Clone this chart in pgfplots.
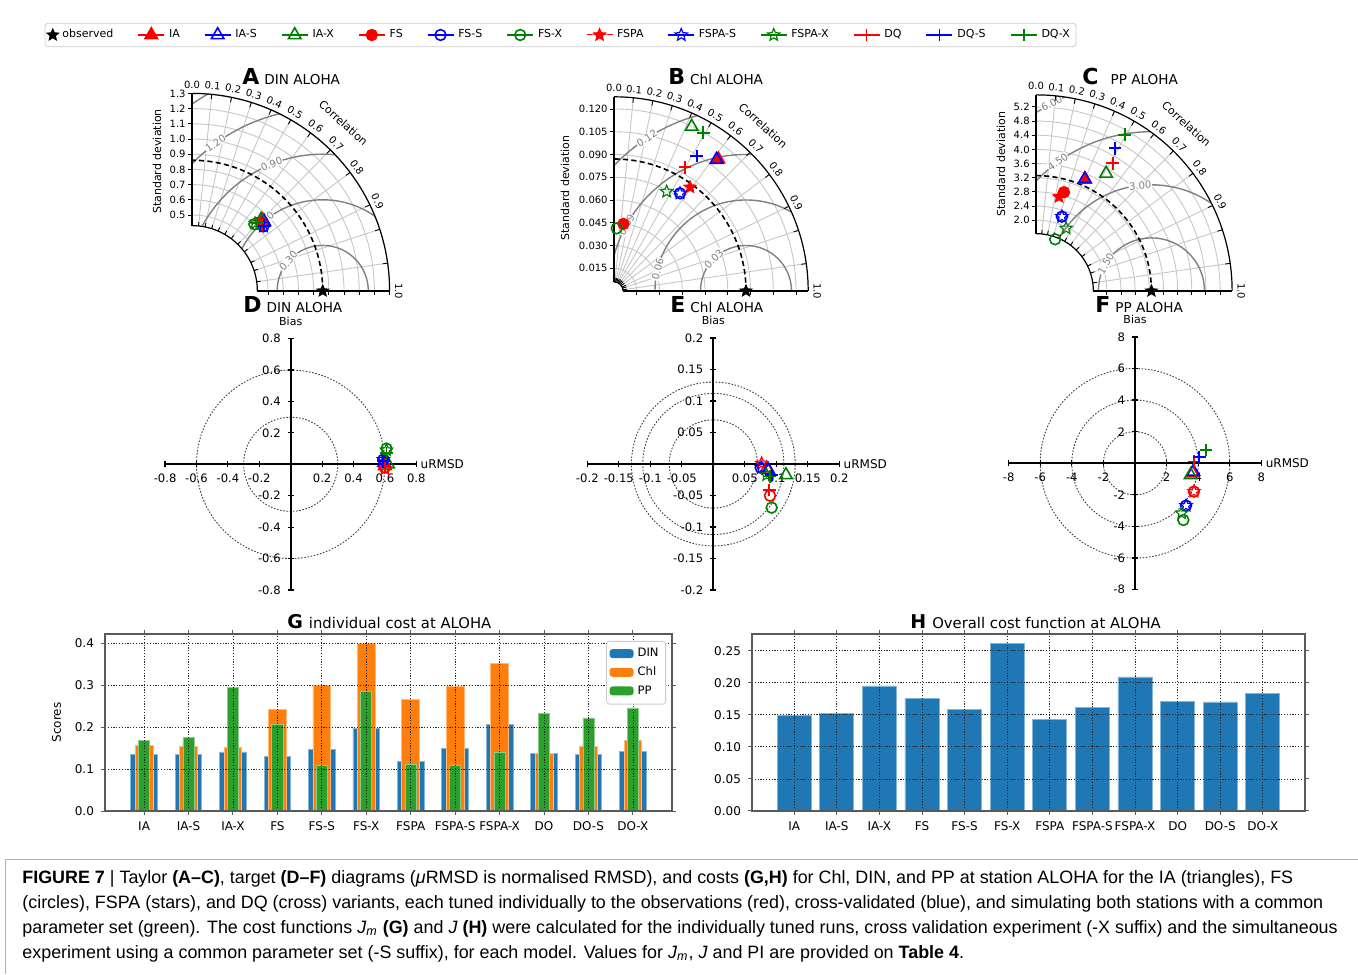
\documentclass[border=0pt]{standalone}
\usepackage{pgfplots}
\pgfplotsset{compat=1.18}
\usepackage{fontspec}
\setmainfont{DejaVu Sans}
\newfontfamily\capfont{Liberation Sans}
\usetikzlibrary{plotmarks}

\definecolor{grn}{RGB}{0,128,0}
\definecolor{mblue}{HTML}{1F77B4}
\definecolor{morange}{HTML}{FF7F0E}
\definecolor{mgreen}{HTML}{2CA02C}

\pgfdeclareplotmark{fstar}{%
  \pgfpathmoveto{\pgfqpointpolar{90}{\pgfplotmarksize}}%
  \pgfpathlineto{\pgfqpointpolar{126}{0.45\pgfplotmarksize}}%
  \pgfpathlineto{\pgfqpointpolar{162}{\pgfplotmarksize}}%
  \pgfpathlineto{\pgfqpointpolar{198}{0.45\pgfplotmarksize}}%
  \pgfpathlineto{\pgfqpointpolar{234}{\pgfplotmarksize}}%
  \pgfpathlineto{\pgfqpointpolar{270}{0.45\pgfplotmarksize}}%
  \pgfpathlineto{\pgfqpointpolar{306}{\pgfplotmarksize}}%
  \pgfpathlineto{\pgfqpointpolar{342}{0.45\pgfplotmarksize}}%
  \pgfpathlineto{\pgfqpointpolar{18}{\pgfplotmarksize}}%
  \pgfpathlineto{\pgfqpointpolar{54}{0.45\pgfplotmarksize}}%
  \pgfpathclose\pgfusepathqfillstroke}
\pgfdeclareplotmark{ostar}{%
  \pgfpathmoveto{\pgfqpointpolar{90}{\pgfplotmarksize}}%
  \pgfpathlineto{\pgfqpointpolar{126}{0.45\pgfplotmarksize}}%
  \pgfpathlineto{\pgfqpointpolar{162}{\pgfplotmarksize}}%
  \pgfpathlineto{\pgfqpointpolar{198}{0.45\pgfplotmarksize}}%
  \pgfpathlineto{\pgfqpointpolar{234}{\pgfplotmarksize}}%
  \pgfpathlineto{\pgfqpointpolar{270}{0.45\pgfplotmarksize}}%
  \pgfpathlineto{\pgfqpointpolar{306}{\pgfplotmarksize}}%
  \pgfpathlineto{\pgfqpointpolar{342}{0.45\pgfplotmarksize}}%
  \pgfpathlineto{\pgfqpointpolar{18}{\pgfplotmarksize}}%
  \pgfpathlineto{\pgfqpointpolar{54}{0.45\pgfplotmarksize}}%
  \pgfpathclose\pgfusepathqstroke}

\newcommand\fT{\fontsize{5}{5.5}\selectfont}
\newcommand\fTl{\fontsize{5.5}{6}\selectfont}

\pgfplotsset{
 mObs/.style={black,mark=fstar,mark size=3pt,line width=0.5pt},
 mIA/.style={red,mark=triangle*,mark size=3.6pt,line width=0.8pt},
 mIAo/.style={red,mark=triangle,mark size=3.6pt,line width=0.8pt},
 mIAS/.style={blue,mark=triangle,mark size=3.6pt,line width=0.8pt},
 mIAX/.style={grn,mark=triangle,mark size=3.6pt,line width=0.8pt},
 mFS/.style={red,mark=*,mark size=2.7pt,line width=0.8pt},
 mFSo/.style={red,mark=o,mark size=2.7pt,line width=0.8pt},
 mFSS/.style={blue,mark=o,mark size=2.7pt,line width=0.8pt},
 mFSX/.style={grn,mark=o,mark size=2.7pt,line width=0.8pt},
 mFSPA/.style={red,mark=fstar,mark size=3.2pt,line width=0.5pt},
 mFSPAo/.style={red,mark=ostar,mark size=3.2pt,line width=0.6pt},
 mFSPAS/.style={blue,mark=ostar,mark size=3.2pt,line width=0.6pt},
 mFSPAX/.style={grn,mark=ostar,mark size=3.2pt,line width=0.6pt},
 mDQ/.style={red,mark=+,mark size=3.2pt,line width=0.9pt},
 mDQS/.style={blue,mark=+,mark size=3.2pt,line width=0.9pt},
 mDQX/.style={grn,mark=+,mark size=3.2pt,line width=0.9pt},
 taylor/.style={anchor=south west,scale only axis,hide axis,clip=false},
 tgt/.style={anchor=center,scale only axis,axis lines=middle,clip=false,
   axis line style={line width=0.9pt,-},
   every inner x axis line/.append style={-},
   every inner y axis line/.append style={-},
   tick style={black,line width=0.6pt},major tick length=3pt,
   tick label style={font=\fontsize{5.8}{6}\selectfont},
   xlabel={uRMSD},ylabel={Bias},
   every axis x label/.style={at={(axis description cs:1,0.5)},anchor=west,font=\fontsize{6}{6.5}\selectfont,inner sep=2pt},
   every axis y label/.style={at={(axis description cs:0.5,1)},anchor=south,font=\fontsize{5.5}{6}\selectfont,yshift=3pt}},
 bars/.style={anchor=south west,scale only axis,height=88.5pt,ymin=0,
   xtick={0,...,11},xticklabels={IA,IA-S,IA-X,FS,FS-S,FS-X,FSPA,FSPA-S,FSPA-X,DO,DO-S,DO-X},
   tick label style={font=\fontsize{6}{7}\selectfont},
   grid=major,grid style={black!85,dash pattern=on 0.6pt off 0.8pt,line width=0.4pt},
   axis line style={black!65,line width=0.8pt},
   tick align=outside,major tick length=2pt,tick style={black!65,line width=0.5pt},
   axis on top}
}

% #1 ox, #2 oy, #3 scale, #4 rin, #5 rmax, #6 obs, #7 std list, #8 rms radii, #9 rms labels
\newcommand{\TaylorFrame}[9]{%
\begin{scope}[shift={(#1,#2)},scale=#3]
 \foreach \rr/\lab in {#7}{\draw[black!22,line width=0.45pt] (\rr,0) arc[start angle=0,end angle=90,radius=\rr];}
 \foreach \cc in {0.1,0.2,0.3,0.4,0.5,0.6,0.7,0.8,0.9,0.95,0.99}{\draw[black!22,line width=0.45pt] ({acos(\cc)}:#4) -- ({acos(\cc)}:#5);}
 \begin{scope}
  \clip (#4,0) -- (#5,0) arc[start angle=0,end angle=90,radius=#5] -- (0,#4) arc[start angle=90,end angle=0,radius=#4] -- cycle;
  \foreach \RR in {#8}{\draw[black!50,line width=0.7pt] (#6,0) circle[radius=\RR];}
 \end{scope}
 \foreach \RR/\ang/\lab in {#9}{\node[black!50,rotate=\ang-90,fill=white,inner sep=0.3pt,font=\fT] at ({#6+\RR*cos(\ang)},{\RR*sin(\ang)}) {\lab};}
 \draw[line width=0.8pt,dash pattern=on 2.6pt off 1.6pt] (#6,0) arc[start angle=0,end angle=90,radius=#6];
 \draw[line width=0.6pt] (0,#4) -- (0,#5) (#4,0) -- (#5,0);
 \draw[line width=0.6pt] (#5,0) arc[start angle=0,end angle=90,radius=#5];
 \draw[line width=0.6pt] (#4,0) arc[start angle=0,end angle=90,radius=#4];
 \foreach \rr/\lab in {#7}{\draw[line width=0.45pt] (0,\rr) -- ++({-2.2/#3},0) (\rr,0) -- ++(0,{-2.2/#3});
   \node[anchor=east,inner sep=0pt,font=\fT] at ({-3/#3},\rr) {\lab};}
 \foreach \cc in {0,0.1,0.2,0.3,0.4,0.5,0.6,0.7,0.8,0.9,0.95,0.99}{\draw[line width=0.45pt] ({acos(\cc)}:#5) -- ({acos(\cc)}:{#5-2.5/#3}) ({acos(\cc)}:#4) -- ({acos(\cc)}:{#4+2/#3});}
 \foreach \cc/\lab in {0/0.0,0.1/0.1,0.2/0.2,0.3/0.3,0.4/0.4,0.5/0.5,0.6/0.6,0.7/0.7,0.8/0.8,0.9/0.9}{\node[rotate={acos(\cc)-90},anchor=south,inner sep=2.2pt,font=\fT] at ({acos(\cc)}:#5) {\lab};}
 \node[rotate=-90,anchor=south,inner sep=2.5pt,font=\fT] at (#5,0) {1.0};
 \node[rotate=-42,anchor=south,inner sep=0pt,font=\fTl] at (48:{#5+12/#3}) {Correlation};
\end{scope}}

\begin{document}
\begin{tikzpicture}[x=1pt,y=1pt]
\useasboundingbox (0,0) rectangle (679,487);

%================ top legend
\begin{axis}[at={(280.25pt,469.5pt)},anchor=center,scale only axis,width=10pt,height=10pt,hide axis,
 xmin=0,xmax=1,ymin=0,ymax=1,legend columns=13,
 legend style={at={(0.5,0.5)},anchor=center,draw=black!20,rounded corners=1.5pt,
   font=\fontsize{5.5}{6}\selectfont,inner sep=1pt,
   /tikz/every even column/.append style={column sep=10pt}},
 legend image code/.code={\draw[mark repeat=2,mark phase=2,#1] plot coordinates {(0pt,0pt) (6.5pt,0pt) (13pt,0pt)};},
 legend entries={observed,IA,IA-S,IA-X,FS,FS-S,FS-X,FSPA,FSPA-S,FSPA-X,DQ,DQ-S,DQ-X}]
\addlegendimage{mObs,only marks}
\addlegendimage{mIA}
\addlegendimage{mIAS}
\addlegendimage{mIAX}
\addlegendimage{mFS}
\addlegendimage{mFSS}
\addlegendimage{mFSX}
\addlegendimage{mFSPA}
\addlegendimage{mFSPAS}
\addlegendimage{mFSPAX}
\addlegendimage{mDQ}
\addlegendimage{mDQS}
\addlegendimage{mDQX}
\end{axis}

%================ Taylor A
\TaylorFrame{96}{341.5}{76}{0.43}{1.3}{0.86}%
 {0.5/0.5,0.6/0.6,0.7/0.7,0.8/0.8,0.9/0.9,1.0/1.0,1.1/1.1,1.2/1.2,1.3/1.3}%
 {0.3,0.6,0.9,1.2,1.5}%
 {0.3/139/0.30,0.6/130/0.60,0.9/112/0.90,1.2/126/1.20}
\node[rotate=90,font=\fTl] at (78.5,406.25) {Standard deviation};
\node[anchor=base west,inner sep=0pt] at (121,444.5) {\fontsize{11}{12}\selectfont\bfseries A\hspace{2.5pt}\mdseries\fontsize{6.8}{7}\selectfont DIN ALOHA};
\begin{axis}[taylor,at={(96pt,341.5pt)},width=98.8pt,height=98.8pt,xmin=0,xmax=1.3,ymin=0,ymax=1.3]
\addplot[mObs,only marks] coordinates {(0.86,0)};
\addplot[mIA,only marks] coordinates {(0.465,0.465)};
\addplot[mIAS,only marks] coordinates {(0.475,0.455)};
\addplot[mIAX,only marks] coordinates {(0.455,0.470)};
\addplot[mFS,only marks] coordinates {(0.455,0.445)};
\addplot[mFSS,only marks] coordinates {(0.470,0.425)};
\addplot[mFSX,only marks] coordinates {(0.410,0.440)};
\addplot[mFSPA,only marks] coordinates {(0.450,0.450)};
\addplot[mFSPAS,only marks] coordinates {(0.470,0.425)};
\addplot[mFSPAX,only marks] coordinates {(0.415,0.445)};
\addplot[mDQ,only marks] coordinates {(0.460,0.440)};
\addplot[mDQS,only marks] coordinates {(0.475,0.430)};
\addplot[mDQX,only marks] coordinates {(0.430,0.445)};
\end{axis}

%================ Taylor B
\TaylorFrame{307}{341.5}{758.5}{0.006}{0.128}{0.087}%
 {0.015/0.015,0.030/0.030,0.045/0.045,0.060/0.060,0.075/0.075,0.090/0.090,0.105/0.105,0.120/0.120}%
 {0.03,0.06,0.09,0.12}%
 {0.03/135/0.03,0.06/166/0.06,0.09/151/0.09,0.12/123/0.12}
\node[rotate=90,font=\fTl] at (282.5,393) {Standard deviation};
\node[anchor=base west,inner sep=0pt] at (334,444.5) {\fontsize{11}{12}\selectfont\bfseries B\hspace{2.5pt}\mdseries\fontsize{6.8}{7}\selectfont Chl ALOHA};
\begin{axis}[taylor,at={(307pt,341.5pt)},width=97.088pt,height=97.088pt,xmin=0,xmax=0.128,ymin=0,ymax=0.128]
\addplot[mObs,only marks] coordinates {(0.087,0)};
\addplot[mIA,only marks] coordinates {(0.0688,0.0868)};
\addplot[mIAS,only marks] coordinates {(0.0676,0.0866)};
\addplot[mIAX,only marks] coordinates {(0.0512,0.1083)};
\addplot[mFS,only marks] coordinates {(0.0062,0.0442)};
\addplot[mFSS,only marks] coordinates {(0.0435,0.0644)};
\addplot[mFSX,only marks] coordinates {(0.0018,0.0413)};
\addplot[mFSPA,only marks] coordinates {(0.0501,0.0684)};
\addplot[mFSPAS,only marks] coordinates {(0.0435,0.0644)};
\addplot[mFSPAX,only marks] coordinates {(0.0347,0.0655)};
\addplot[mDQ,only marks] coordinates {(0.0468,0.0815)};
\addplot[mDQS,only marks] coordinates {(0.0545,0.0890)};
\addplot[mDQX,only marks] coordinates {(0.0589,0.1044)};
\end{axis}

%================ Taylor C
\TaylorFrame{518}{341.5}{17.7}{1.62}{5.54}{3.26}%
 {2.0/2.0,2.4/2.4,2.8/2.8,3.2/3.2,3.6/3.6,4.0/4.0,4.4/4.4,4.8/4.8,5.2/5.2}%
 {1.5,3.0,4.5,6.0}%
 {1.5/149/1.50,3.0/96/3.00,4.5/126/4.50,6.0/118/6.00}
\node[rotate=90,font=\fTl] at (500.5,405) {Standard deviation};
\node[anchor=base west,inner sep=0pt] at (541,444.5) {\fontsize{11}{12}\selectfont\bfseries C\hspace{6pt}\mdseries\fontsize{6.8}{7}\selectfont PP ALOHA};
\begin{axis}[taylor,at={(518pt,341.5pt)},width=98.058pt,height=98.058pt,xmin=0,xmax=5.54,ymin=0,ymax=5.54]
\addplot[mObs,only marks] coordinates {(3.26,0)};
\addplot[mIA,only marks] coordinates {(1.38,3.16)};
\addplot[mIAS,only marks] coordinates {(1.38,3.16)};
\addplot[mIAX,only marks] coordinates {(1.98,3.32)};
\addplot[mFS,only marks] coordinates {(0.79,2.79)};
\addplot[mFSS,only marks] coordinates {(0.73,2.10)};
\addplot[mFSX,only marks] coordinates {(0.54,1.46)};
\addplot[mFSPA,only marks] coordinates {(0.65,2.66)};
\addplot[mFSPAS,only marks] coordinates {(0.73,2.10)};
\addplot[mFSPAX,only marks] coordinates {(0.85,1.77)};
\addplot[mDQ,only marks] coordinates {(2.17,3.61)};
\addplot[mDQS,only marks] coordinates {(2.23,4.03)};
\addplot[mDQX,only marks] coordinates {(2.51,4.41)};
\end{axis}

%================ Target D
\begin{scope}[shift={(145.35,254.85)},scale=78.5]
\foreach \RR in {0.3,0.6}{\draw[black!75,dash pattern=on 0.8pt off 0.8pt,line width=0.45pt] (0,0) circle[radius=\RR];}
\end{scope}
\node[anchor=base west,inner sep=0pt] at (121.5,330.5) {\fontsize{11}{12}\selectfont\bfseries D\hspace{2.5pt}\mdseries\fontsize{6.8}{7}\selectfont DIN ALOHA};
\begin{axis}[tgt,at={(145.35pt,254.85pt)},width=125.6pt,height=125.6pt,xmin=-0.8,xmax=0.8,ymin=-0.8,ymax=0.8,
 xtick={-0.8,-0.6,-0.4,-0.2,0.2,0.4,0.6,0.8},xticklabels={-0.8,-0.6,-0.4,-0.2,0.2,0.4,0.6,0.8},
 ytick={-0.8,-0.6,-0.4,-0.2,0.2,0.4,0.6,0.8},yticklabels={-0.8,-0.6,-0.4,-0.2,0.2,0.4,0.6,0.8}]
\addplot[mIAo,only marks] coordinates {(0.60,-0.01)};
\addplot[mIAS,only marks] coordinates {(0.595,0.01)};
\addplot[mIAX,only marks] coordinates {(0.62,0.0)};
\addplot[mFSo,only marks] coordinates {(0.60,-0.02)};
\addplot[mFSS,only marks] coordinates {(0.59,0.03)};
\addplot[mFSX,only marks] coordinates {(0.61,0.10)};
\addplot[mFSPAo,only marks] coordinates {(0.60,-0.03)};
\addplot[mFSPAS,only marks] coordinates {(0.59,0.03)};
\addplot[mFSPAX,only marks] coordinates {(0.61,0.09)};
\addplot[mDQ,only marks] coordinates {(0.60,-0.01)};
\addplot[mDQS,only marks] coordinates {(0.59,0.02)};
\addplot[mDQX,only marks] coordinates {(0.61,0.07)};
\end{axis}

%================ Target E
\begin{scope}[shift={(356.65,255)},scale=315]
\foreach \RR in {0.07,0.112,0.13}{\draw[black!75,dash pattern=on 0.8pt off 0.8pt,line width=0.45pt] (0,0) circle[radius=\RR];}
\end{scope}
\node[anchor=base west,inner sep=0pt] at (335,330.5) {\fontsize{11}{12}\selectfont\bfseries E\hspace{2.5pt}\mdseries\fontsize{6.8}{7}\selectfont Chl ALOHA};
\begin{axis}[tgt,at={(356.65pt,255pt)},width=126pt,height=126pt,xmin=-0.2,xmax=0.2,ymin=-0.2,ymax=0.2,
 xtick={-0.2,-0.15,-0.1,-0.05,0.05,0.1,0.15,0.2},xticklabels={-0.2,-0.15,-0.1,-0.05,0.05,0.1,0.15,0.2},
 ytick={-0.2,-0.15,-0.1,-0.05,0.05,0.1,0.15,0.2},yticklabels={-0.2,-0.15,-0.1,-0.05,0.05,0.1,0.15,0.2}]
\addplot[mIAo,only marks] coordinates {(0.0847,-0.0069)};
\addplot[mIAS,only marks] coordinates {(0.0873,-0.0095)};
\addplot[mIAX,only marks] coordinates {(0.1153,-0.0175)};
\addplot[mFSo,only marks] coordinates {(0.0899,-0.0503)};
\addplot[mFSS,only marks] coordinates {(0.0751,-0.0058)};
\addplot[mFSX,only marks] coordinates {(0.0926,-0.0693)};
\addplot[mFSPAo,only marks] coordinates {(0.0767,0.0010)};
\addplot[mFSPAS,only marks] coordinates {(0.0767,-0.0058)};
\addplot[mFSPAX,only marks] coordinates {(0.0847,-0.0175)};
\addplot[mDQ,only marks] coordinates {(0.0889,-0.0413)};
\addplot[mDQS,only marks] coordinates {(0.0926,-0.0175)};
\addplot[mDQX,only marks] coordinates {(0.0899,-0.0200)};
\end{axis}

%================ Target F
\begin{scope}[shift={(567.5,255.35)},scale=7.9]
\foreach \RR in {2,4,6}{\draw[black!75,dash pattern=on 0.8pt off 0.8pt,line width=0.45pt] (0,0) circle[radius=\RR];}
\end{scope}
\node[anchor=base west,inner sep=0pt] at (547.5,330.5) {\fontsize{11}{12}\selectfont\bfseries F\hspace{2.5pt}\mdseries\fontsize{6.8}{7}\selectfont PP ALOHA};
\begin{axis}[tgt,at={(567.5pt,255.35pt)},width=126.4pt,height=126.4pt,xmin=-8,xmax=8,ymin=-8,ymax=8,
 xtick={-8,-6,-4,-2,2,4,6,8},xticklabels={-8,-6,-4,-2,2,4,6,8},
 ytick={-8,-6,-4,-2,2,4,6,8},yticklabels={-8,-6,-4,-2,2,4,6,8}]
\addplot[mIAo,only marks] coordinates {(3.65,-0.63)};
\addplot[mIAS,only marks] coordinates {(3.69,-0.53)};
\addplot[mIAX,only marks] coordinates {(3.52,-0.74)};
\addplot[mFSo,only marks] coordinates {(3.73,-1.79)};
\addplot[mFSS,only marks] coordinates {(3.23,-2.68)};
\addplot[mFSX,only marks] coordinates {(3.06,-3.59)};
\addplot[mFSPAo,only marks] coordinates {(3.73,-1.79)};
\addplot[mFSPAS,only marks] coordinates {(3.23,-2.68)};
\addplot[mFSPAX,only marks] coordinates {(2.95,-3.16)};
\addplot[mDQ,only marks] coordinates {(3.73,0.11)};
\addplot[mDQS,only marks] coordinates {(4.07,0.38)};
\addplot[mDQX,only marks] coordinates {(4.49,0.84)};
\end{axis}

%================ G
\node[anchor=base west,inner sep=0pt] at (143.5,172.5) {\fontsize{9.5}{10}\selectfont\bfseries G\hspace{3pt}\mdseries\fontsize{7.4}{8}\selectfont individual cost at ALOHA};
\begin{axis}[bars,at={(52.5pt,81.5pt)},width=283.5pt,xmin=-0.88,xmax=11.88,ymax=0.4224,
 ytick={0,0.1,0.2,0.3,0.4},yticklabels={0.0,0.1,0.2,0.3,0.4},
 ylabel={Scores},ylabel style={font=\fontsize{6}{7}\selectfont},
 legend style={at={(1,1)},anchor=north east,xshift=-3pt,yshift=-3.5pt,draw=black!20,rounded corners=1.5pt,
   font=\fontsize{5.8}{6.5}\selectfont,row sep=-0.5pt,inner sep=1.5pt},legend cell align=left,
 legend image code/.code={\fill[#1] (0pt,-2pt) rectangle (12pt,2.5pt);},
 legend entries={DIN,Chl,PP}]
\addlegendimage{fill=mblue,draw=none}
\addlegendimage{fill=morange,draw=none}
\addlegendimage{fill=mgreen,draw=none}
\addplot[ybar,bar shift=0pt,bar width=0.6,fill=mblue,draw=mblue!55!white,line width=0.4pt,forget plot] coordinates {
(0,0.134) (1,0.134) (2,0.141) (3,0.130) (4,0.146) (5,0.198) (6,0.119) (7,0.150) (8,0.206) (9,0.138) (10,0.136) (11,0.142)};
\addplot[ybar,bar shift=0pt,bar width=0.4,fill=morange,draw=morange!55!white,line width=0.4pt,forget plot] coordinates {
(0,0.156) (1,0.154) (2,0.152) (3,0.242) (4,0.299) (5,0.400) (6,0.266) (7,0.297) (8,0.352) (9,0.138) (10,0.154) (11,0.168)};
\addplot[ybar,bar shift=0pt,bar width=0.25,fill=mgreen,draw=mgreen!55!white,line width=0.4pt,forget plot] coordinates {
(0,0.168) (1,0.176) (2,0.294) (3,0.206) (4,0.108) (5,0.286) (6,0.112) (7,0.108) (8,0.140) (9,0.232) (10,0.222) (11,0.246)};
\end{axis}

%================ H
\node[anchor=base west,inner sep=0pt] at (455,172.5) {\fontsize{9.5}{10}\selectfont\bfseries H\hspace{3pt}\mdseries\fontsize{7.4}{8}\selectfont Overall cost function at ALOHA};
\begin{axis}[bars,at={(376pt,81.5pt)},width=276.5pt,xmin=-0.99,xmax=11.99,ymax=0.276,
 ytick={0,0.05,0.1,0.15,0.2,0.25},yticklabels={0.00,0.05,0.10,0.15,0.20,0.25}]
\addplot[ybar,bar shift=0pt,bar width=0.8,fill=mblue,draw=mblue!55!white,line width=0.4pt] coordinates {
(0,0.1495) (1,0.152) (2,0.195) (3,0.1755) (4,0.159) (5,0.2615) (6,0.1427) (7,0.161) (8,0.209) (9,0.171) (10,0.170) (11,0.183)};
\end{axis}

%================ caption
\draw[black!30,line width=0.5pt] (2.5,0) -- (2.5,57.5) -- (679,57.5);
\begin{scope}[every node/.style={anchor=base west,inner sep=0pt,font=\capfont\fontsize{8.95}{10}\selectfont}]
\node at (11,45.5) {\textbf{FIGURE 7} | Taylor \textbf{(A–C)}, target \textbf{(D–F)} diagrams (\textit{μ}RMSD is normalised RMSD), and costs \textbf{(G,H)} for Chl, DIN, and PP at station ALOHA for the IA (triangles), FS};
\node at (11,33) {(circles), FSPA (stars), and DQ (cross) variants, each tuned individually to the observations (red), cross-validated (blue), and simulating both stations with a common};
\node at (11,20.5) {parameter set (green). The cost functions \textit{J}\textsubscript{\textit{m}} \textbf{(G)} and \textit{J} \textbf{(H)} were calculated for the individually tuned runs, cross validation experiment (-X suffix) and the simultaneous};
\node at (11,8) {experiment using a common parameter set (-S suffix), for each model. Values for \textit{J}\textsubscript{\textit{m}}, \textit{J} and PI are provided on \textbf{Table 4}.};
\end{scope}
\end{tikzpicture}
\end{document}
